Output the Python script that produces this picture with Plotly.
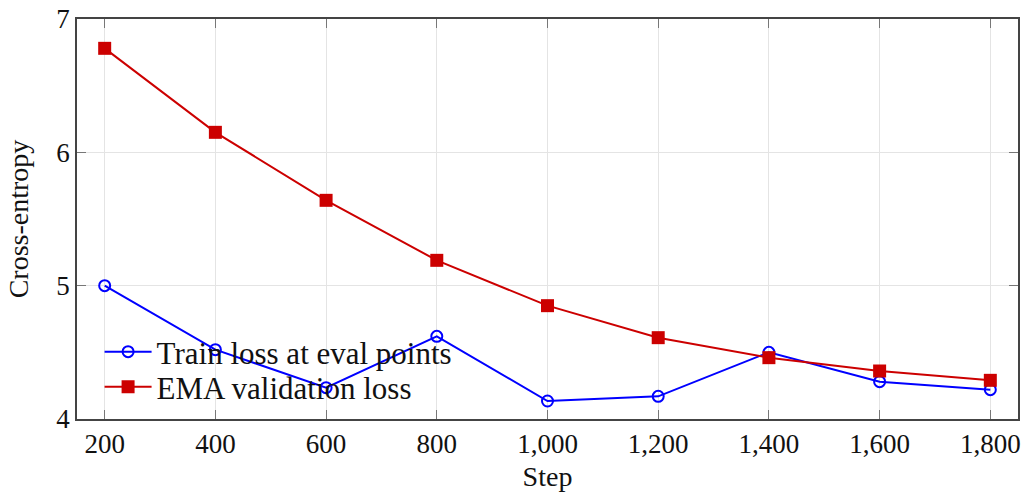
import plotly.graph_objects as go

steps = [200, 400, 600, 800, 1000, 1200, 1400, 1600, 1800]
train_loss = [5.00, 4.52, 4.235, 4.62, 4.135, 4.17, 4.50, 4.28, 4.22]
ema_val_loss = [6.78, 6.15, 5.64, 5.19, 4.85, 4.61, 4.46, 4.36, 4.29]
x_ticks = [200, 400, 600, 800, 1000, 1200, 1400, 1600, 1800]
x_tick_labels = ["200", "400", "600", "800", "1,000", "1,200", "1,400", "1,600", "1,800"]
y_ticks = [4, 5, 6, 7]

FONT = "Liberation Serif"

fig = go.Figure()
fig.add_trace(go.Scatter(
    x=steps, y=train_loss, mode="lines+markers", name="Train loss at eval points",
    line=dict(color="#0000ff", width=2),
    marker=dict(symbol="circle-open", size=11, color="#0000ff", line=dict(width=2)),
    legend="legend",
))
fig.add_trace(go.Scatter(
    x=steps, y=ema_val_loss, mode="lines+markers", name="EMA validation loss",
    line=dict(color="#cc0000", width=2),
    marker=dict(symbol="square", size=13, color="#cc0000"),
    legend="legend2",
))

axis_common = dict(
    showline=True, linecolor="#444", linewidth=1.5, mirror="allticks",
    ticks="inside", ticklen=9, tickcolor="#777", tickwidth=1.2,
    showgrid=True, gridcolor="#e4e4e4", gridwidth=1, zeroline=False,
    automargin=False,
    tickfont=dict(family=FONT, size=27, color="#111"),
)

legend_common = dict(
    xanchor="left", yanchor="middle",
    bgcolor="rgba(0,0,0,0)", borderwidth=0,
    font=dict(family=FONT, size=31, color="#111"),
    itemwidth=47,
)

fig.update_layout(
    width=1021, height=492,
    margin=dict(l=77, r=3, t=19, b=73),
    paper_bgcolor="white", plot_bgcolor="white",
    font=dict(family=FONT, color="#111"),
    xaxis=dict(range=[150, 1850], tickvals=x_ticks, ticktext=x_tick_labels,
               title=dict(text="Step", font=dict(family=FONT, size=28), standoff=11),
               **axis_common),
    yaxis=dict(range=[4, 7], tickvals=y_ticks,
               title=dict(text="Cross-entropy", font=dict(family=FONT, size=28), standoff=20),
               **axis_common),
    legend=dict(x=0.024, y=(419 - 352) / 400, **legend_common),
    legend2=dict(x=0.024, y=(419 - 387) / 400, **legend_common),
    showlegend=True,
)

fig.write_html(
    "out.html",
    config={"displayModeBar": False},
    post_script="document.body.style.margin='0';document.body.style.overflow='hidden';",
)
